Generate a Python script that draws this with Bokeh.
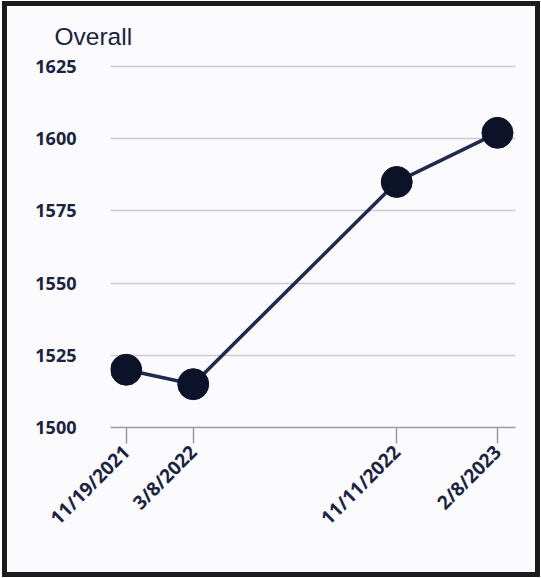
from bokeh.plotting import figure
from bokeh.models import ColumnDataSource, FixedTicker, Range1d
from bokeh.embed import file_html
from bokeh.resources import INLINE
import math

# data
date_labels = ["11/19/2021", "3/8/2022", "11/11/2022", "2/8/2023"]
x_pos = [0.0, 0.1806, 0.7286, 1.0]          # relative positions of the dates on the axis
overall = [1520, 1515, 1585, 1602]
y_ticks = [1500, 1525, 1550, 1575, 1600, 1625]

src = ColumnDataSource(dict(x=x_pos, y=overall, d=date_labels))

p = figure(width=538, height=576, output_backend="svg", toolbar_location=None,
           x_range=Range1d(-0.0423, 1.0485), y_range=Range1d(1500, 1626),
           min_border_left=103, min_border_right=30, min_border_top=56,
           min_border_bottom=155)
p.styles = {"border": "5px solid #1b1b1b", "box-sizing": "border-box",
            "margin-left": "2px", "margin-top": "1px"}
p.background_fill_color = "#fbfbfd"
p.border_fill_color = "#fbfbfd"
p.outline_line_color = None

navy = "#1a2340"
p.title.text = "Overall"
p.title.align = "left"
p.title.offset = -56
p.title.standoff = 28
p.title.text_font = "Liberation Sans"
p.title.text_font_size = "24.5px"
p.title.text_font_style = "normal"
p.title.text_color = navy

p.line("x", "y", source=src, line_color="#1f2a4d", line_width=3.5)
p.scatter("x", "y", source=src, size=31, fill_color="#0c1329", line_color="#0c1329")

# y axis
p.yaxis.ticker = FixedTicker(ticks=y_ticks)
p.yaxis.axis_line_color = None
p.yaxis.major_tick_line_color = None
p.yaxis.minor_tick_line_color = None
p.yaxis.major_label_standoff = 28
p.yaxis.major_label_text_font = "Open Sans"
p.yaxis.major_label_text_font_size = "18px"
p.yaxis.major_label_text_font_style = "bold"
p.yaxis.major_label_text_color = navy

p.ygrid.grid_line_color = "#c9cbd3"
p.ygrid.grid_line_width = 1.5
p.xgrid.grid_line_color = None

# x axis
p.xaxis.ticker = FixedTicker(ticks=x_pos)
p.xaxis.major_label_overrides = {x: d for x, d in zip(x_pos, date_labels)}
p.xaxis.major_label_orientation = math.pi / 4
p.xaxis.axis_line_color = "#9a9ca5"
p.xaxis.axis_line_width = 1.5
p.xaxis.major_tick_line_color = "#9a9ca5"
p.xaxis.major_tick_line_width = 1.5
p.xaxis.major_tick_out = 16
p.xaxis.major_tick_in = 0
p.xaxis.minor_tick_line_color = None
p.xaxis.major_label_standoff = 5
p.xaxis.major_label_text_font = "Open Sans"
p.xaxis.major_label_text_font_size = "19px"
p.xaxis.major_label_text_font_style = "bold"
p.xaxis.major_label_text_color = navy

open("out.html", "w").write(file_html(p, INLINE))
